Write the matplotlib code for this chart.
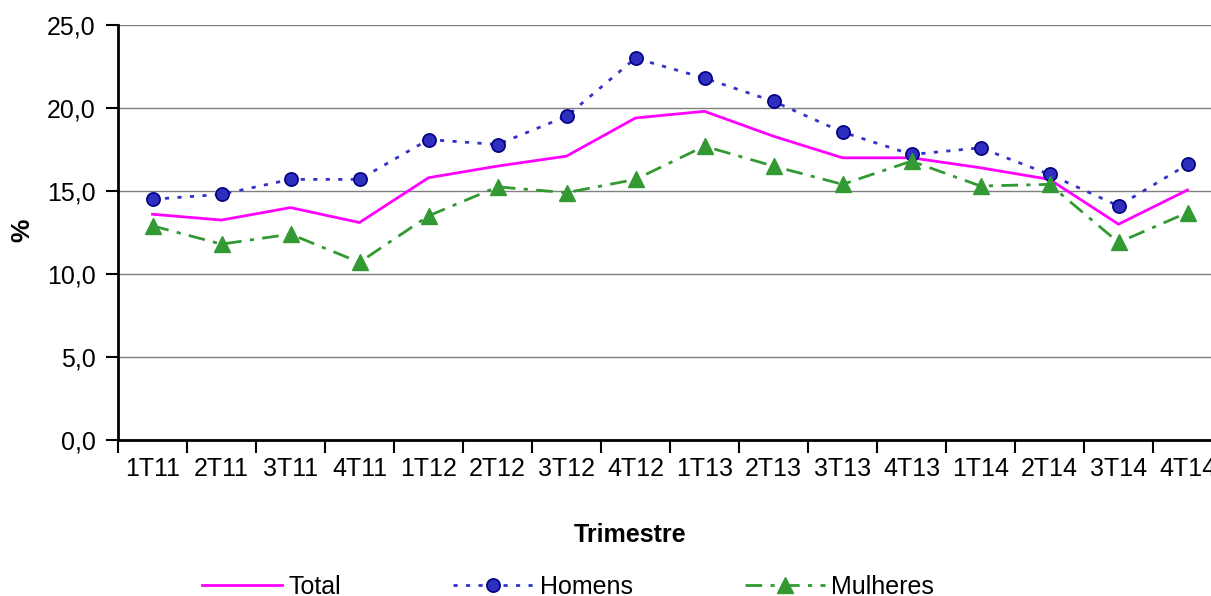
import matplotlib
matplotlib.use('Agg')
import matplotlib.pyplot as plt
import numpy as np

plt.rcParams['font.family'] = ['Liberation Sans', 'DejaVu Sans']

trimestres = ['1T11', '2T11', '3T11', '4T11', '1T12', '2T12', '3T12', '4T12',
              '1T13', '2T13', '3T13', '4T13', '1T14', '2T14', '3T14', '4T14']
total = [13.6, 13.25, 14.0, 13.1, 15.8, 16.5, 17.1, 19.4,
         19.8, 18.3, 17.0, 17.0, 16.4, 15.7, 13.0, 15.06]
homens = [14.5, 14.8, 15.7, 15.7, 18.1, 17.8, 19.5, 23.0,
          21.8, 20.4, 18.55, 17.2, 17.6, 16.0, 14.1, 16.6]
mulheres = [12.9, 11.8, 12.4, 10.7, 13.5, 15.25, 14.9, 15.7,
            17.7, 16.5, 15.4, 16.8, 15.3, 15.4, 11.9, 13.7]

fig = plt.figure(figsize=(12.11, 5.96), dpi=100)
ax = fig.add_axes([118 / 1211, 156 / 596, 1104 / 1211, 415 / 596])

x = np.arange(len(trimestres))
ax.plot(x, total, color='#FF00FF', lw=2, label='Total')
ax.plot(x, homens, color='#3333CC', lw=2, ls=(0, (1.5, 3)), marker='o',
        ms=9.5, mfc='#2F2FBF', mec='#000080', mew=1.2, label='Homens')
ax.plot(x, mulheres, color='#339933', lw=2, ls=(0, (6, 3, 1.5, 3)), marker='^',
        ms=12, mfc='#339933', mec='#339933', label='Mulheres')

ax.set_xlim(-0.5, len(trimestres) - 0.5)
ax.set_ylim(0, 25)
ax.set_yticks(np.arange(0, 26, 5))
ax.set_yticklabels([('%.1f' % v).replace('.', ',') for v in np.arange(0, 26, 5)])
ax.set_xticks(x)
ax.set_xticklabels(trimestres)
ax.set_xticks(np.arange(-0.5, len(trimestres), 1), minor=True)
ax.tick_params(axis='x', which='major', length=0, pad=12, labelsize=18)
ax.tick_params(axis='x', which='minor', length=9, width=1.5, direction='out')
ax.tick_params(axis='y', length=9, width=1.5, pad=7, labelsize=18)

ax.grid(axis='y', color='#808080', lw=1)
ax.set_axisbelow(True)
for s in ['top', 'right']:
    ax.spines[s].set_visible(False)
for s in ['left', 'bottom']:
    ax.spines[s].set_linewidth(2)

fig.text(630 / 1211, 1 - 535 / 596, 'Trimestre', ha='center', va='center',
         fontsize=18, fontweight='bold')
fig.text(22 / 1211, 1 - 230 / 596, '%', ha='center', va='center',
         rotation=90, fontsize=19, fontweight='bold')

fig.legend(loc='center', bbox_to_anchor=(568 / 1211, 1 - 587 / 596), ncol=3,
           frameon=False, fontsize=18, handlelength=3.2, handletextpad=0.25,
           columnspacing=4.5, borderpad=0)

fig.savefig('out.png', dpi=100)
